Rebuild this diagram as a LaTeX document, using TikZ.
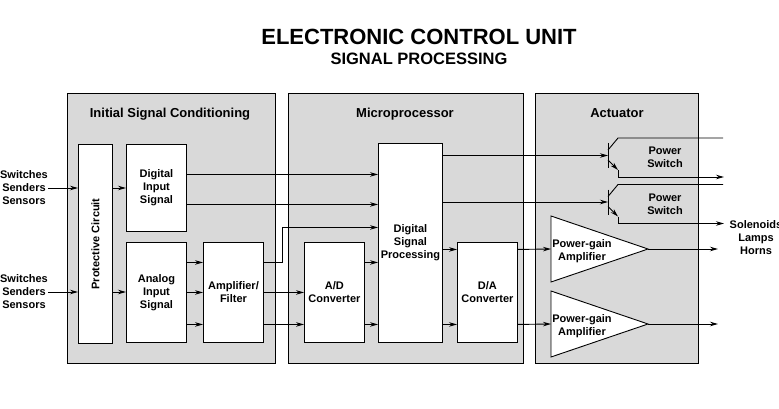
\documentclass[tikz,border=0pt]{standalone}
\usepackage{fontspec}
\setmainfont{Liberation Sans}
\usetikzlibrary{arrows.meta}

\begin{document}
\begin{tikzpicture}[x=1pt,y=-1pt,
    panel/.style={draw,line width=0.9pt,fill=gray!30,anchor=north west,inner sep=0pt},
    blk/.style={draw,line width=0.9pt,fill=white,anchor=north west,align=center,inner sep=0pt,
      font=\fontsize{11}{13}\selectfont\bfseries},
    lbl/.style={align=center,inner sep=0pt,font=\fontsize{11}{13}\selectfont\bfseries},
    ttl/.style={anchor=base,inner sep=0pt,font=\fontsize{13}{15}\selectfont\bfseries},
    wire/.style={line width=0.9pt},
    sig/.style={wire,-{Stealth[length=8pt,width=4.5pt]}}]
\useasboundingbox (0,0) rectangle (779,409);

% heading
\node[anchor=base,font=\fontsize{22}{26}\selectfont\bfseries] (head) at (419,45) {ELECTRONIC CONTROL UNIT};
\node[anchor=base,font=\fontsize{16.5}{20}\selectfont\bfseries] (sub) at (419,65) {SIGNAL PROCESSING};

% the three stages
\node[panel,minimum width=208pt,minimum height=270pt] (isc) at (67,93) {};
\node[panel,minimum width=235pt,minimum height=270pt] (mpu) at (288,93) {};
\node[panel,minimum width=163pt,minimum height=270pt] (act) at (535,93) {};
\node[ttl] (isct) at (170,118) {Initial Signal Conditioning};
\node[ttl] (mput) at (405,118) {Microprocessor};
\node[ttl] (actt) at (617,118) {Actuator};

% blocks
\node[blk,minimum width=34pt,minimum height=199pt] (prot) at (78,144) {};
\node[lbl,rotate=90] (prott) at (prot.center) {Protective Circuit};
\node[blk,minimum width=60pt,minimum height=87pt] (dig) at (126,144) {Digital\\Input\\Signal};
\node[blk,minimum width=60pt,minimum height=100pt] (ana) at (126,242) {Analog\\Input\\Signal};
\node[blk,minimum width=60pt,minimum height=100pt] (amp) at (203,242) {Amplifier/\\Filter};
\node[blk,minimum width=60pt,minimum height=100pt] (adc) at (304,242) {A/D\\Converter};
\node[blk,minimum width=64pt,minimum height=199pt] (dsp) at (378,143) {Digital\\Signal\\Processing};
\node[blk,minimum width=60pt,minimum height=100pt] (dac) at (457,242) {D/A\\Converter};

% inputs
\node[lbl] (src1) at (24,188) {Switches\\Senders\\Sensors};
\node[lbl] (src2) at (24,292) {Switches\\Senders\\Sensors};
\draw[sig] (src1.east) -- (src1.east -| prot.west);
\draw[sig] (src1.east -| prot.east) -- (src1.east -| dig.west);
\draw[sig] (src2.east) -- (src2.east -| prot.west);
\draw[sig] (src2.east -| prot.east) -- (src2.east -| ana.west);
\foreach \dy in {30,0,-32}
  \draw[sig] ([yshift=\dy pt]ana.east) -- ([yshift=\dy pt]amp.west);

% into the microprocessor
\coordinate (d1) at ([yshift=13.5pt]dig.east);
\coordinate (d2) at ([yshift=-16.5pt]dig.east);
\draw[sig] (d1) -- (d1 -| dsp.west);
\draw[sig] (d2) -- (d2 -| dsp.west);
\draw[sig] ([yshift=30pt]amp.east) -- ++(19,0) |- ([yshift=15.5pt]dsp.west);
\draw[sig] (amp.east) -- (adc.west);
\draw[sig] ([yshift=-32pt]amp.east) -- ([yshift=-32pt]adc.west);
\coordinate (a1) at ([yshift=30pt]adc.east);
\coordinate (a2) at ([yshift=-32pt]adc.east);
\draw[sig] (a1) -- (a1 -| dsp.west);
\draw[sig] (a2) -- (a2 -| dsp.west);
\coordinate (c1) at ([yshift=43pt]dac.west);
\coordinate (c2) at ([yshift=-32pt]dac.west);
\draw[sig] (c1 -| dsp.east) -- (c1);
\draw[sig] (c2 -| dsp.east) -- (c2);

% power switches
\foreach \i/\yb in {1/155.5,2/202} {
  \coordinate (q\i) at (608,\yb);
  \draw[wire] ([yshift=12.5pt]q\i) -- ([yshift=-12.5pt]q\i);
  \draw[wire] ([yshift=5.5pt]q\i) -- ++(10,-12) -- ++(105,0);
  \draw[sig] ([yshift=-4.5pt]q\i) -- ++(10,10) coordinate (e\i);
  \draw[sig] (e\i) -- ++(0,7) -- ++(106,0);
  \node[lbl] (ps\i) at (665,\yb+2) {Power\\Switch};
}
\draw[sig] (q1 -| dsp.east) -- (q1);
\draw[sig] (q2 -| dsp.east) -- (q2);
\node[lbl] (load) at (756,238) {Solenoids\\Lamps\\Horns};

% power-gain amplifiers
\foreach \i/\yc in {1/249,2/324} {
  \draw[wire,fill=white] (551,\yc-33) -- (648,\yc) coordinate (o\i) -- (551,\yc+33) -- cycle;
  \coordinate (pga\i) at (551,\yc);
  \node[lbl] (pgat\i) at (582,\yc+2) {Power-gain\\Amplifier};
  \draw[sig] (o\i) -- ++(70,0);
}
\draw[sig] (c1 -| dac.east) -- (pga1);
\draw[sig] (c2 -| dac.east) -- (pga2);
\end{tikzpicture}
\end{document}
